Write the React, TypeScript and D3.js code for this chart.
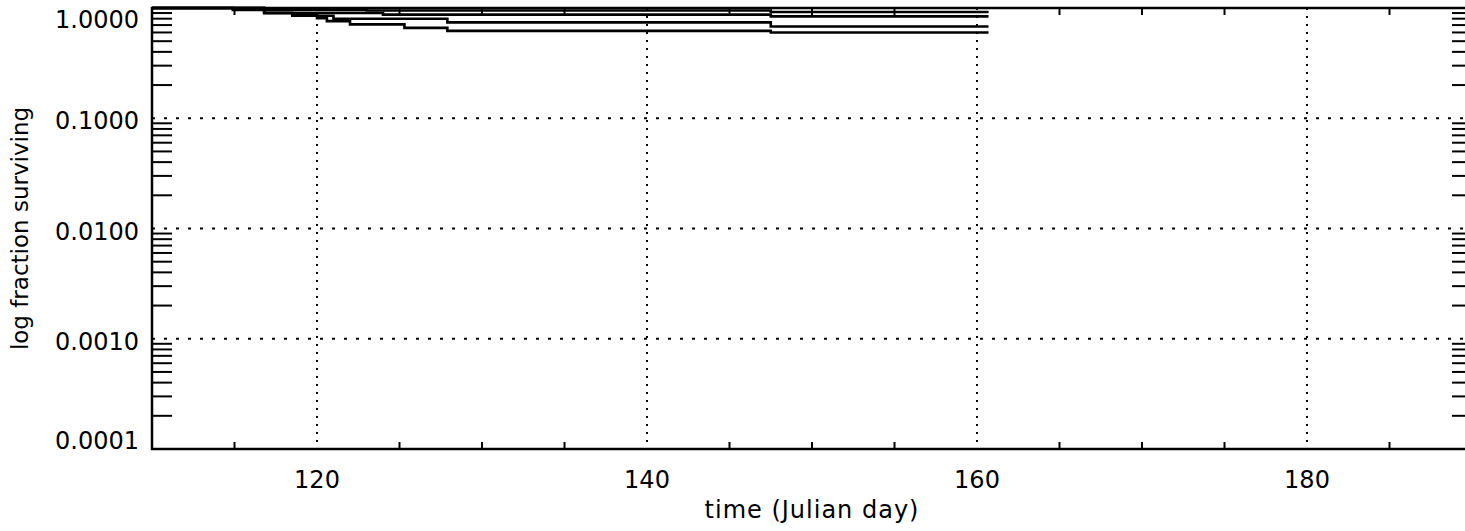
import React, { FC, useMemo } from 'react'
import * as d3 from 'd3'

const WIDTH = 1465
const HEIGHT = 531

// plot frame (right edge runs a little past the window)
const frame = { left: 152, right: 1472, top: 8, bottom: 449 }

const xDomain: [number, number] = [110, 190]
const yDomain: [number, number] = [0.0001, 1]
const xMajorTicks = [120, 140, 160, 180]
const yMajorTicks = [1, 0.1, 0.01, 0.001, 0.0001]

// survival curves (step after)
const curveADays = [110, 114.9, 123.0, 147.5, 160.7]
const curveASurv = [1.0, 0.96, 0.95, 0.92, 0.92]

const curveBDays = [110, 116.8, 124.0, 147.5, 160.7]
const curveBSurv = [1.0, 0.9, 0.87, 0.84, 0.84]

const curveCDays = [110, 116.8, 118.5, 120.0, 121.0, 127.9, 147.5, 160.7]
const curveCSurv = [1.0, 0.9, 0.885, 0.85, 0.8, 0.74, 0.68, 0.68]

const curveDDays = [110, 116.8, 118.5, 120.0, 120.6, 122.0, 125.3, 127.9, 147.5, 160.7]
const curveDSurv = [1.0, 0.9, 0.85, 0.81, 0.76, 0.71, 0.66, 0.62, 0.6, 0.6]

const curves = [
	{ days: curveADays, surv: curveASurv },
	{ days: curveBDays, surv: curveBSurv },
	{ days: curveCDays, surv: curveCSurv },
	{ days: curveDDays, surv: curveDSurv }
]

const FONT = '"DejaVu Sans", sans-serif'

const App: FC = () => {
	const xScale = useMemo(
		() => d3.scaleLinear().domain(xDomain).range([frame.left, frame.right]),
		[]
	)
	const yScale = useMemo(
		() => d3.scaleLog().domain(yDomain).range([frame.bottom, frame.top]),
		[]
	)

	const line = d3
		.line<[number, number]>()
		.x(d => xScale(d[0]))
		.y(d => yScale(d[1]))
		.curve(d3.curveStepAfter)

	const yMinor = yScale.ticks().filter(v => !yMajorTicks.some(m => Math.abs(m - v) < v * 1e-6))
	const xMinor = xScale.ticks(16).filter(v => !xMajorTicks.includes(v) && v > xDomain[0] && v < xDomain[1])

	const fmt = d3.format('.4f')

	return (
		<svg
			width={WIDTH}
			height={HEIGHT}
			style={{ position: 'fixed', left: 0, top: 0, background: '#fff', overflow: 'hidden', display: 'block' }}
		>
			{/* grid */}
			<g stroke="#000" strokeWidth={2}>
				{xMajorTicks.map(t => (
					<line
						key={'gx' + t}
						x1={xScale(t)}
						x2={xScale(t)}
						y1={frame.top}
						y2={frame.bottom}
						strokeDasharray="2,6"
					/>
				))}
				{yMajorTicks
					.filter(t => t !== yDomain[0] && t !== yDomain[1])
					.map(t => (
						<line
							key={'gy' + t}
							x1={frame.left}
							x2={frame.right}
							y1={yScale(t)}
							y2={yScale(t)}
							strokeDasharray="3,9"
						/>
					))}
			</g>

			{/* minor ticks */}
			<g stroke="#000" strokeWidth={2}>
				{yMinor.map((t, i) => (
					<g key={'my' + i}>
						<line x1={frame.left} x2={frame.left + 20} y1={yScale(t)} y2={yScale(t)} />
						<line x1={frame.right - 20} x2={frame.right} y1={yScale(t)} y2={yScale(t)} />
					</g>
				))}
				{xMinor.map(t => (
					<g key={'mx' + t}>
						<line x1={xScale(t)} x2={xScale(t)} y1={frame.bottom} y2={frame.bottom - 7} />
						<line x1={xScale(t)} x2={xScale(t)} y1={frame.top} y2={frame.top + 7} />
					</g>
				))}
			</g>

			{/* curves */}
			<g fill="none" stroke="#000" strokeWidth={2.6}>
				{curves.map((c, i) => (
					<path key={i} d={line(c.days.map((d, j) => [d, c.surv[j]]) as [number, number][]) || ''} />
				))}
			</g>

			{/* frame */}
			<rect
				x={frame.left}
				y={frame.top}
				width={frame.right - frame.left}
				height={frame.bottom - frame.top}
				fill="none"
				stroke="#000"
				strokeWidth={2.5}
			/>

			{/* labels */}
			<g fontFamily={FONT} fontSize={24} fill="#000">
				{yMajorTicks.map(t => {
					const cy = Math.min(Math.max(yScale(t) + 3, frame.top + 12), frame.bottom - 8)
					return (
						<text key={'ly' + t} x={139} y={cy} textAnchor="end" dominantBaseline="central">
							{fmt(t)}
						</text>
					)
				})}
				{xMajorTicks.map(t => (
					<text key={'lx' + t} x={xScale(t)} y={488} textAnchor="middle">
						{t}
					</text>
				))}
				<text
					x={(frame.left + frame.right) / 2}
					y={518}
					textAnchor="middle"
					letterSpacing={1}
				>
					time (Julian day)
				</text>
				<text
					transform={`translate(28, ${(frame.top + frame.bottom) / 2}) rotate(-90)`}
					textAnchor="middle"
					fontSize={23}
				>
					log fraction surviving
				</text>
			</g>
		</svg>
	)
}

export default App
